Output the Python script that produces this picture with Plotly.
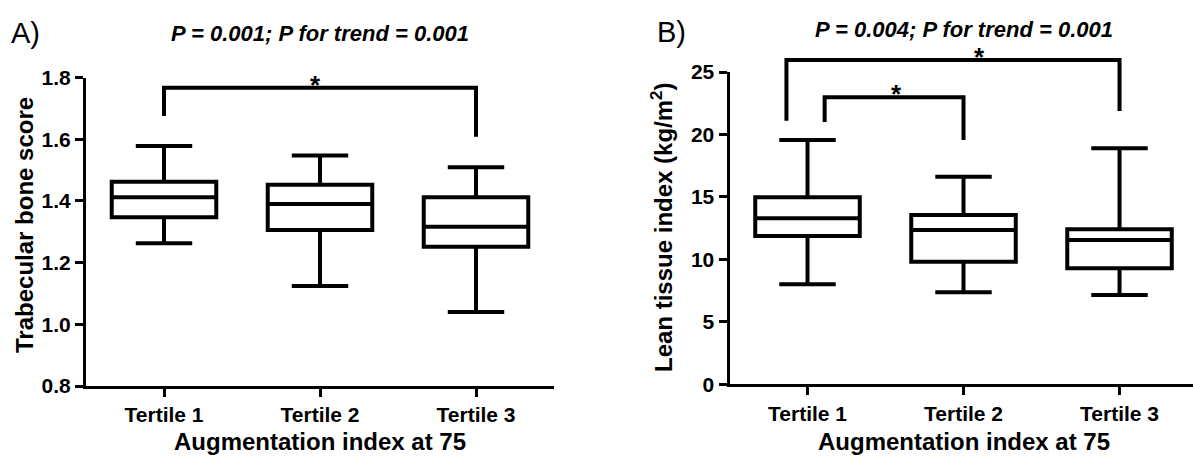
import plotly.graph_objects as go

# ---------------- data ----------------
categories = ["Tertile 1", "Tertile 2", "Tertile 3"]
cat_pos = [0, 1, 2]

# Panel A: Trabecular bone score
tbs_lower = [1.263, 1.124, 1.040]
tbs_q1 = [1.347, 1.306, 1.251]
tbs_median = [1.412, 1.390, 1.316]
tbs_q3 = [1.462, 1.452, 1.412]
tbs_upper = [1.578, 1.547, 1.509]
tbs_ticks = [0.8, 1.0, 1.2, 1.4, 1.6, 1.8]

# Panel B: Lean tissue index
lti_lower = [8.0, 7.37, 7.15]
lti_q1 = [11.87, 9.82, 9.29]
lti_median = [13.29, 12.35, 11.55]
lti_q3 = [14.97, 13.55, 12.41]
lti_upper = [19.56, 16.62, 18.9]
lti_ticks = [0, 5, 10, 15, 20, 25]

# significance brackets: (x_left, x_right, top, left_end, right_end)
brackets_a = [(0.0, 2.0, 1.767, 1.675, 1.608)]
brackets_b = [(-0.135, 2.0, 25.96, 21.1, 21.88),
              (0.11, 1.0, 22.97, 21.0, 19.56)]
stars_a = [(0.97, 1.767)]
stars_b = [(1.10, 25.96), (0.57, 22.97)]

title_a = "P = 0.001; P for trend = 0.001"
title_b = "P = 0.004; P for trend = 0.001"
ytitle_a = "Trabecular bone score"
ytitle_b = "Lean tissue index (kg/m<sup>2</sup>)"
xtitle = "Augmentation index at 75"

# ---------------- layout geometry ----------------
W, H = 1193, 457
FONT = "Liberation Sans, Arial, sans-serif"
xa_dom = [86 / W, 554 / W]
xb_dom = [729.5 / W, 1.0]
ya_dom = [(H - 386) / H, (H - 77.5) / H]
yb_dom = [(H - 384.3) / H, (H - 72) / H]
ya_rng = [0.8, 1.8]
yb_rng = [0, 25]
# hidden axes sharing the same scale but reaching to the top of the figure (for brackets)
ya3_rng = [ya_rng[0], ya_rng[0] + (ya_rng[1] - ya_rng[0]) * (1 - ya_dom[0]) / (ya_dom[1] - ya_dom[0])]
yb4_rng = [yb_rng[0], yb_rng[0] + (yb_rng[1] - yb_rng[0]) * (1 - yb_dom[0]) / (yb_dom[1] - yb_dom[0])]

fig = go.Figure()

BOX_W = 0.67
for xref, yref, lo, q1, med, q3, up in [
    ("x", "y", tbs_lower, tbs_q1, tbs_median, tbs_q3, tbs_upper),
    ("x2", "y2", lti_lower, lti_q1, lti_median, lti_q3, lti_upper),
]:
    fig.add_trace(go.Box(
        x=cat_pos, q1=q1, median=med, q3=q3, lowerfence=lo, upperfence=up,
        xaxis=xref, yaxis=yref, width=BOX_W, whiskerwidth=0.54,
        line=dict(color="black", width=4), fillcolor="white",
        boxpoints=False, showlegend=False, hoverinfo="skip",
    ))

for xref, yref, brs in [("x", "y3", brackets_a), ("x2", "y4", brackets_b)]:
    for xl, xr, top, le, re in brs:
        fig.add_trace(go.Scatter(
            x=[xl, xl, xr, xr], y=[le, top, top, re], mode="lines",
            xaxis=xref, yaxis=yref, line=dict(color="black", width=4),
            showlegend=False, hoverinfo="skip",
        ))

annotations = []
for xref, yref, stars in [("x", "y3", stars_a), ("x2", "y4", stars_b)]:
    for sx, sy in stars:
        annotations.append(dict(
            x=sx, y=sy, xref=xref, yref=yref, text="*", showarrow=False,
            xanchor="center", yanchor="bottom", yshift=-14,
            font=dict(family=FONT, size=26, color="black", weight="bold"),
        ))

def txt(x, y, text, size, weight="bold", style="normal", angle=0):
    return dict(x=x / W, y=1 - y / H, xref="paper", yref="paper", text=text,
                showarrow=False, xanchor="center", yanchor="middle", textangle=angle,
                font=dict(family=FONT, size=size, color="black", weight=weight, style=style))

annotations += [
    txt(26, 33, "A)", 29, weight="normal"),
    txt(671, 32, "B)", 29, weight="normal"),
    txt(320, 33, title_a, 22, style="italic"),
    txt(964, 29, title_b, 22, style="italic"),
    txt(24, 225, ytitle_a, 24, angle=-90),
    txt(662, 228, ytitle_b, 24, angle=-90),
    txt(320, 441, xtitle, 24),
    txt(964, 441, xtitle, 24),
]

axis_common = dict(showline=True, linecolor="black", linewidth=3, ticks="outside",
                   ticklen=8, tickwidth=3, tickcolor="black", showgrid=False, zeroline=False,
                   automargin=False,
                   tickfont=dict(family=FONT, size=21, color="black", weight="bold"))

fig.update_layout(
    template="none",
    width=W, height=H, margin=dict(l=0, r=0, t=0, b=0, pad=0, autoexpand=False),
    paper_bgcolor="white", plot_bgcolor="rgba(0,0,0,0)",
    xaxis=dict(domain=xa_dom, range=[-0.5, 2.5], anchor="y", tickvals=cat_pos,
               ticktext=categories, **axis_common),
    yaxis=dict(domain=ya_dom, range=ya_rng, anchor="x", tickvals=tbs_ticks,
               tickformat=".1f", **axis_common),
    xaxis2=dict(domain=xb_dom, range=[-0.5, 2.471], anchor="y2", tickvals=cat_pos,
                ticktext=categories, **axis_common),
    yaxis2=dict(domain=yb_dom, range=yb_rng, anchor="x2", tickvals=lti_ticks, **axis_common),
    yaxis3=dict(domain=[ya_dom[0], 1.0], range=ya3_rng, anchor="x", visible=False,
                showgrid=False, zeroline=False, automargin=False),
    yaxis4=dict(domain=[yb_dom[0], 1.0], range=yb4_rng, anchor="x2", visible=False,
                showgrid=False, zeroline=False, automargin=False),
    annotations=annotations,
)

fig.write_html("out.html")
